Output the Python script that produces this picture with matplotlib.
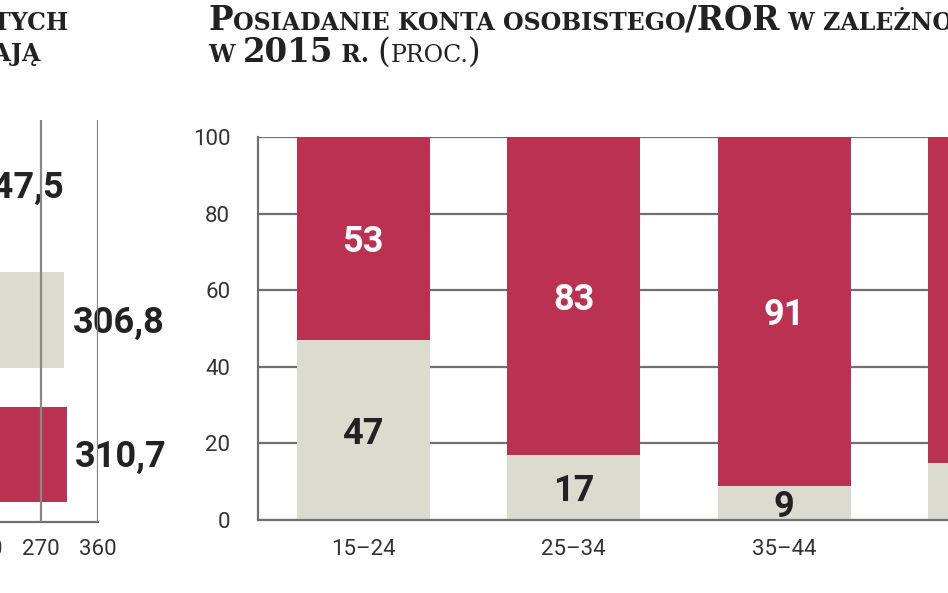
import matplotlib
matplotlib.use("Agg")
import matplotlib.pyplot as plt
from matplotlib import font_manager

# left chart (cut off) - values in thousands
left_values = [147.5, 306.8, 310.7]
left_labels = ["147,5", "306,8", "310,7"]
left_ticks = [0, 90, 180, 270, 360]

# right chart: account ownership by age, 2015 (%)
ages = ["15–24", "25–34", "35–44", "45–54"]
no_account = [47, 17, 9, 15]
has_account = [53, 83, 91, 85]
y_ticks = [0, 20, 40, 60, 80, 100]

RED = "#bb3151"
GREY = "#dcdbd0"
DARK = "#222222"
LINE = "#707070"

names = {f.name for f in font_manager.fontManager.ttflist}
NARROW = ["Liberation Sans Narrow", "DejaVu Sans"] if "Liberation Sans Narrow" in names else ["Roboto", "DejaVu Sans"]
SERIF = ["DejaVu Serif"]

W, H = 948, 593
fig = plt.figure(figsize=(W / 100, H / 100), dpi=100)


def fx(px):
    return px / W


def fy(py):
    return 1 - py / H


# ---------- left chart ----------
axl = fig.add_axes([fx(-130), fy(522), fx(228), fy(120) - fy(522)])
left_colors = [GREY, GREY, RED]
ypos = range(len(left_values))
axl.barh(ypos, left_values, height=0.71, color=left_colors, zorder=1)
for y, v, lab in zip(ypos, left_values, left_labels):
    axl.annotate(lab, (v, y), xytext=(6, -2), textcoords="offset points",
                 va="center", ha="left", fontsize=26, fontweight="bold",
                 family=NARROW, color=DARK, zorder=2)
axl.set_xlim(0, 360)
axl.set_ylim(2.5, -0.48)
axl.set_xticks(left_ticks)
axl.set_yticks([])
for t in left_ticks[1:]:
    axl.axvline(t, color="#888888", lw=1.6, zorder=3)
for s in ["top", "left", "right"]:
    axl.spines[s].set_visible(False)
axl.spines["bottom"].set_color(LINE)
axl.spines["bottom"].set_linewidth(1.6)
axl.tick_params(axis="x", length=0, pad=12, labelsize=16, colors="#333333")
for lbl in axl.get_xticklabels():
    lbl.set_family(NARROW)

# ---------- right chart ----------
axr = fig.add_axes([fx(258), fy(520), fx(842), fy(137) - fy(520)])
x = range(len(ages))
axr.bar(x, no_account, width=0.63, color=GREY, zorder=2)
axr.bar(x, has_account, width=0.63, bottom=no_account, color=RED, zorder=2)
for i in x:
    axr.text(i, no_account[i] / 2 - 1, str(no_account[i]), ha="center", va="center",
             fontsize=26, fontweight="bold", family=NARROW, color=DARK, zorder=3)
    axr.text(i, no_account[i] + has_account[i] / 2 - 1, str(has_account[i]), ha="center",
             va="center", fontsize=26, fontweight="bold", family=NARROW,
             color="white", zorder=3)
axr.set_xlim(-0.5, 3.5)
axr.set_ylim(0, 100)
axr.set_yticks(y_ticks)
axr.set_xticks(list(x))
axr.set_xticklabels(ages)
axr.yaxis.grid(True, color=LINE, lw=1.6, zorder=0)
axr.set_axisbelow(True)
for s in ["top", "right"]:
    axr.spines[s].set_visible(False)
for s in ["left", "bottom"]:
    axr.spines[s].set_color(LINE)
    axr.spines[s].set_linewidth(1.6)
axr.tick_params(axis="both", length=0, labelsize=16, colors="#333333")
axr.tick_params(axis="y", pad=20)
axr.tick_params(axis="x", pad=14)
for lbl in axr.get_xticklabels() + axr.get_yticklabels():
    lbl.set_family(NARROW)

# ---------- titles (small caps built from pieces) ----------
renderer = fig.canvas.get_renderer()


def runs(x0, base, parts):
    xp = x0
    for s, size, weight in parts:
        t = fig.text(fx(xp), fy(base), s, fontsize=size, fontweight=weight,
                     family=SERIF, color=DARK, va="baseline", ha="left")
        xp += t.get_window_extent(renderer).width
    return xp


BIG, SMALL = 23.5, 17
runs(208, 30, [("P", BIG, "bold"),
               ("OSIADANIE KONTA OSOBISTEGO", SMALL, "bold"),
               ("/ROR", BIG, "bold"),
               (" W ZALEŻNOŚCI OD WIEKU", SMALL, "bold")])
runs(208, 62, [("W ", SMALL, "bold"), ("2015", BIG, "bold"), (" R. ", SMALL, "bold"),
               ("(", BIG, "normal"), ("PROC.", SMALL, "normal"), (")", BIG, "normal")])

fig.text(fx(68), fy(30), "KONT OSOBISTYCH", fontsize=SMALL, fontweight="bold",
         family=SERIF, color=DARK, va="baseline", ha="right")
fig.text(fx(41), fy(61), "POSIADAJĄ", fontsize=SMALL, fontweight="bold",
         family=SERIF, color=DARK, va="baseline", ha="right")

fig.savefig("out.png", dpi=100)
